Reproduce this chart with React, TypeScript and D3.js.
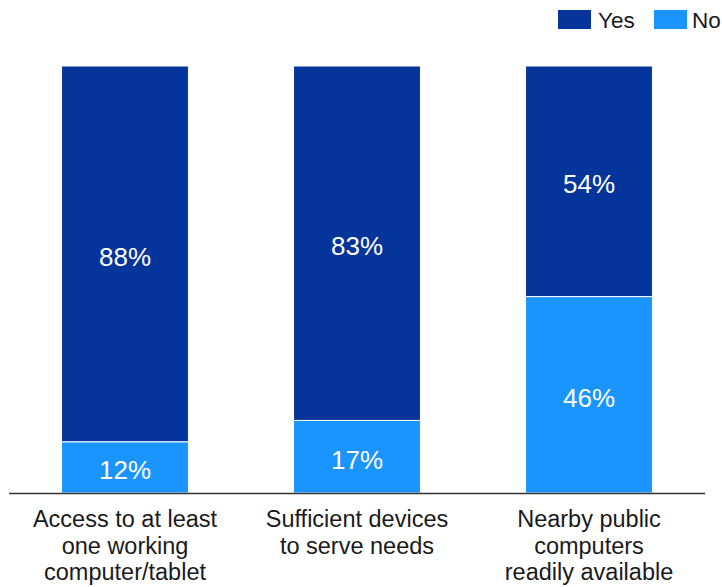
import React from "react";
import * as d3 from "d3";

const categories = [
  ["Access to at least", "one working", "computer/tablet"],
  ["Sufficient devices", "to serve needs"],
  ["Nearby public", "computers", "readily available"],
];
const yesValues = [88, 83, 54];
const noValues = [12, 17, 46];
const seriesNames = ["Yes", "No"];
const colors = ["#05359b", "#1a94ff"];

const W = 722;
const H = 587;
const axisLeft = 9;
const axisRight = 705;
const top = 66;
const baseline = 493;
const font = "'Liberation Sans', Arial, Helvetica, sans-serif";

export default function App() {
  const x = d3
    .scaleBand<number>()
    .domain(d3.range(categories.length))
    .range([axisLeft, axisRight])
    .paddingInner(0.453)
    .paddingOuter(0.2265);
  const y = d3.scaleLinear().domain([0, 100]).range([baseline, top]);

  const data = categories.map((c, i) => ({ i, yes: yesValues[i], no: noValues[i] }));
  const stack = d3.stack<any>().keys(["no", "yes"]);
  const series = stack(data);

  return (
    <svg width={W} height={H} style={{ position: "absolute", left: 0, top: 0, background: "#fff" }}>
      {series.map((s) => {
        const key = s.key as string;
        const color = key === "yes" ? colors[0] : colors[1];
        return (
          <g key={key}>
            {s.map((d, j) => {
              const y0 = y(d[0]);
              const y1 = y(d[1]);
              const val = d[1] - d[0];
              return (
                <g key={j}>
                  <rect
                    x={x(j)!}
                    y={y1}
                    width={x.bandwidth()}
                    height={y0 - y1}
                    fill={color}
                    stroke="#fff"
                    strokeWidth={1}
                  />
                  <text
                    x={x(j)! + x.bandwidth() / 2}
                    y={(y0 + y1) / 2 + 3}
                    dy="0.35em"
                    textAnchor="middle"
                    fill="#fff"
                    fontFamily={font}
                    fontSize={26}
                  >
                    {val}%
                  </text>
                </g>
              );
            })}
          </g>
        );
      })}
      <line x1={axisLeft} x2={axisRight} y1={baseline + 0.5} y2={baseline + 0.5} stroke="#333" strokeWidth={1.5} />
      {categories.map((lines, i) => (
        <text
          key={i}
          x={x(i)! + x.bandwidth() / 2}
          y={527}
          textAnchor="middle"
          fill="#1a1a1a"
          fontFamily={font}
          fontSize={23.5}
        >
          {lines.map((l, k) => (
            <tspan key={k} x={x(i)! + x.bandwidth() / 2} dy={k === 0 ? 0 : 26.5}>
              {l}
            </tspan>
          ))}
        </text>
      ))}
      <g>
        <rect x={558} y={10} width={33} height={19} fill={colors[0]} />
        <text x={598} y={28} fontFamily={font} fontSize={22.5} fill="#1a1a1a">
          {seriesNames[0]}
        </text>
        <rect x={654} y={10} width={33} height={19} fill={colors[1]} />
        <text x={692} y={28} fontFamily={font} fontSize={22.5} fill="#1a1a1a">
          {seriesNames[1]}
        </text>
      </g>
    </svg>
  );
}
